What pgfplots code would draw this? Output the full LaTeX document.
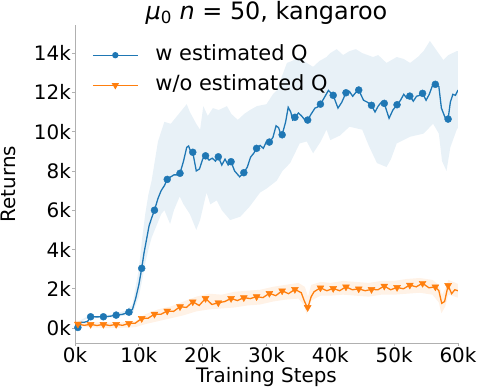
\documentclass[border=0pt]{standalone}
\usepackage{fontspec}
\setmainfont{DejaVu Sans}
\usepackage{pgfplots}
\pgfplotsset{compat=1.18}
\usepgfplotslibrary{fillbetween}
\definecolor{tabblue}{HTML}{1F77B4}
\definecolor{taborange}{HTML}{FF7F0E}
\definecolor{spine}{HTML}{B0B0B0}
\begin{document}
\begin{tikzpicture}
\begin{axis}[
  at={(0,0)}, anchor=south west,
  scale only axis, width=383bp, height=318bp,
  xmin=0, xmax=60, ymin=-0.76, ymax=15.43,
  axis x line=bottom, axis y line=left,
  axis line style={-, draw=spine, line width=0.8bp},
  xtick={0,10,20,30,40,50,60},
  xticklabels={0k,10k,20k,30k,40k,50k,60k},
  ytick={0,2,4,6,8,10,12,14},
  yticklabels={0k,2k,4k,6k,8k,10k,12k,14k},
  tick align=outside, major tick length=3bp,
  tick style={draw=spine, line width=0.8bp},
  ticklabel style={font=\fontsize{20}{24}\selectfont, inner sep=1bp},
  title={{\itshape μ}\textsubscript{0} {\itshape n} = 50, kangaroo},
  every axis title/.style={font=\fontsize{24}{28}\selectfont, at={(axis description cs:0.5,1)}, anchor=base, yshift=5bp},
  xlabel={Training Steps},
  every axis x label/.style={font=\fontsize{20}{24}\selectfont, at={(axis description cs:0.5,0)}, anchor=base, yshift=-39bp},
  ylabel={Returns},
  every axis y label/.style={font=\fontsize{20}{24}\selectfont, at={(axis description cs:0,0.5)}, rotate=90, anchor=center, yshift=67bp},
  legend style={draw=none, fill=none, at={(axis description cs:0,1)}, anchor=north west, xshift=14bp, yshift=-18bp,
    font=\fontsize{21}{25}\selectfont, row sep=10bp, column sep=17bp,
    nodes={inner sep=0pt, text height=15bp, text depth=5bp}},
  legend cell align=left,
  legend image code/.code={\draw[mark repeat=2,mark phase=2,#1] plot coordinates {(0bp,0bp) (22.5bp,0bp) (45bp,0bp)};},
]
% ---- blue band
\addplot[name path=bu, draw=none, forget plot] coordinates {
(0,0.25)(2,0.6)(4,0.62)(6,0.7)(8,0.9)(9,1.2)(10,3.0)(10.5,4.5)(11,5.8)(11.5,6.8)(12,7.5)(12.5,8.5)(13,9.5)(13.5,10.0)(14,10.5)(15,10.4)(16,10.8)(17,11.2)(17.5,11.4)(18,11.0)(19,10.4)(19.6,10.1)(20.1,11.3)(20.8,10.8)(21.6,11.2)(22.5,11.1)(23.8,11.3)(24.5,10.9)(25.5,10.6)(26.5,10.9)(27.4,11.1)(28.5,11.3)(30,11.4)(31,11.9)(31.6,12.1)(32.4,12.8)(33.2,13.5)(34,13.6)(35.2,13.8)(36.3,13.5)(37.3,13.3)(38.3,13.6)(39.4,13.8)(40,14.0)(41,14.2)(42,13.9)(43,14.1)(44,14.2)(45,14.0)(46.7,13.8)(47.5,13.9)(48.8,13.5)(50.4,13.8)(51.5,13.7)(52.5,13.5)(53.7,13.8)(54.6,14.1)(55.6,14.62)(56.5,14.2)(57.7,13.65)(58.5,13.9)(59.8,14.1)(60,14.1)};
\addplot[name path=bl, draw=none, forget plot] coordinates {
(0,0.15)(2,0.5)(4,0.52)(6,0.55)(8,0.65)(9,0.7)(10,1.6)(10.5,2.4)(11,3.3)(11.5,4.0)(12,4.6)(12.5,5.0)(13,5.4)(13.5,5.8)(14,6.0)(14.9,5.3)(15.5,6.0)(16.4,6.7)(17,6.3)(18,5.8)(19,5.0)(19.6,5.5)(20.6,6.9)(21.2,6.3)(22.2,6.5)(23,6.0)(24.3,5.5)(25.9,5.67)(27.4,6.2)(29,6.9)(30,7.1)(31.6,7.5)(32.5,8.0)(33.7,8.4)(35.2,9.4)(36.3,9.5)(37.3,8.9)(38.5,9.5)(39.4,10.1)(40,9.57)(41.5,9.8)(43,10.25)(45,10.1)(46,9.3)(47.3,8.4)(48.8,8.2)(49.5,8.6)(50.4,9.4)(52.5,9.74)(54.6,9.9)(56.1,10.4)(57,9.9)(57.5,8.5)(58.2,8.0)(58.8,9.2)(59.8,10.1)(60,10.2)};
\addplot[fill=tabblue, fill opacity=0.1, draw=none, forget plot] fill between[of=bu and bl];
% ---- orange band
\addplot[name path=ou, draw=none, forget plot] coordinates {
(0,0.4)(2,0.3)(5,0.28)(8,0.3)(9.5,0.35)(11,0.7)(13,0.95)(15,1.1)(17,1.35)(19,1.6)(21,1.75)(23,1.7)(25,1.85)(27,1.9)(29,1.95)(31,2.1)(33,2.2)(35,2.3)(36,2.1)(36.5,1.6)(37,2.2)(38.5,2.35)(40,2.3)(42,2.4)(44,2.35)(46,2.3)(48,2.4)(50,2.4)(52,2.5)(54,2.55)(56,2.45)(57,2.2)(57.5,1.7)(58,2.0)(58.5,2.45)(60,2.25)};
\addplot[name path=ol, draw=none, forget plot] coordinates {
(0,0.15)(2,0.05)(5,0.0)(8,0.02)(9.5,0.05)(11,0.2)(13,0.35)(15,0.5)(17,0.65)(19,0.85)(21,0.95)(23,1.0)(25,1.05)(27,1.15)(29,1.2)(31,1.35)(33,1.45)(35,1.5)(35.8,1.2)(36.3,0.7)(37,1.4)(38.5,1.65)(40,1.65)(42,1.7)(44,1.65)(46,1.6)(48,1.7)(50,1.7)(52,1.75)(54,1.8)(56,1.7)(57,1.3)(57.4,0.75)(58,1.1)(58.5,1.7)(60,1.55)};
\addplot[fill=taborange, fill opacity=0.1, draw=none, forget plot] fill between[of=ou and ol];
% ---- blue line
\addplot[tabblue, line width=1.3bp, forget plot] coordinates {
(0,0.2)(0.45,0.03)(1.0,0.3)(1.5,0.3)(2.0,0.35)(2.45,0.575)(3.45,0.57)(4.45,0.575)(5.45,0.6)(6.45,0.66)(7.45,0.7)(8.45,0.81)(9.0,0.95)(9.5,1.5)(10.0,2.2)(10.45,3.04)(10.8,3.8)(11.2,4.5)(11.6,5.2)(12.0,5.6)(12.45,6.0)(13.0,6.6)(13.5,7.0)(14.0,7.25)(14.45,7.57)(15.0,7.7)(15.5,7.8)(16.0,7.8)(16.45,7.88)(17.0,8.5)(17.5,9.2)(17.8,9.27)(18.1,9.0)(18.45,8.95)(19.0,8.0)(19.5,8.1)(20.0,8.6)(20.45,8.77)(21.0,8.55)(21.5,8.65)(22.0,8.5)(22.45,8.72)(23.0,8.3)(23.5,8.6)(24.0,8.3)(24.45,8.47)(25.0,8.0)(25.8,7.7)(26.45,7.91)(27.0,8.2)(27.5,8.7)(28.0,8.9)(28.45,9.15)(29.0,9.3)(29.5,9.15)(30.0,9.5)(30.45,9.47)(31.0,9.7)(31.5,10.3)(31.9,10.2)(32.2,9.9)(32.45,9.84)(33.0,10.5)(33.4,11.24)(33.8,11.0)(34.1,10.6)(34.45,10.73)(35.0,10.95)(35.5,10.8)(36.0,10.6)(36.45,10.59)(37.0,10.9)(37.6,11.2)(38.0,11.25)(38.45,11.4)(39.0,11.7)(39.7,12.1)(40.45,11.85)(41.2,11.2)(41.8,11.5)(42.45,11.98)(43.0,12.05)(43.5,11.8)(44.0,12.0)(44.45,12.12)(45.2,11.6)(45.8,11.5)(46.45,11.34)(47.0,11.0)(47.5,11.3)(48.0,11.5)(48.45,11.44)(49.2,10.68)(49.8,11.1)(50.45,11.37)(51.0,11.6)(51.5,11.9)(52.0,11.7)(52.45,11.81)(53.0,11.55)(53.5,11.8)(54.0,11.85)(54.45,11.95)(55.0,11.6)(55.5,11.9)(56.0,12.35)(56.45,12.41)(57.0,12.3)(57.4,11.2)(58.0,10.7)(58.45,10.64)(58.8,11.5)(59.2,11.9)(59.6,11.85)(60.0,12.12)};
\addplot[only marks, mark=*, mark size=3.5bp, tabblue, forget plot] coordinates {
(0.45,0.03)(2.45,0.575)(4.45,0.575)(6.45,0.66)(8.45,0.81)(10.45,3.04)(12.45,6.0)(14.45,7.57)(16.45,7.88)(18.45,8.95)(20.45,8.77)(22.45,8.72)(24.45,8.47)(26.45,7.91)(28.45,9.15)(30.45,9.47)(32.45,9.84)(34.45,10.73)(36.45,10.59)(38.45,11.4)(40.45,11.85)(42.45,11.98)(44.45,12.12)(46.45,11.34)(48.45,11.44)(50.45,11.37)(52.45,11.81)(54.45,11.95)(56.45,12.41)(58.45,10.64)};
% ---- orange line
\addplot[taborange, line width=1.3bp, forget plot] coordinates {
(0,0.3)(0.45,0.2)(1.45,0.14)(2.45,0.19)(3.45,0.13)(4.45,0.19)(5.45,0.13)(6.45,0.19)(7.45,0.14)(8.45,0.24)(9.45,0.25)(10.45,0.49)(11.45,0.5)(12.45,0.71)(13.45,0.7)(14.45,0.87)(15.45,0.85)(16.45,1.09)(17.45,1.05)(18.45,1.34)(19.45,1.15)(20.45,1.51)(21.45,1.2)(22.45,1.29)(23.45,1.35)(24.45,1.51)(25.45,1.4)(26.45,1.55)(27.45,1.5)(28.45,1.6)(29.45,1.55)(30.45,1.77)(31.45,1.65)(32.45,1.9)(33.45,1.75)(34.45,1.97)(35.45,1.8)(35.9,1.4)(36.45,1.0)(37.0,1.6)(37.45,1.85)(38.45,2.05)(39.45,1.9)(40.45,2.02)(41.45,1.9)(42.45,2.1)(43.45,1.95)(44.45,2.0)(45.45,1.9)(46.45,1.97)(47.45,1.95)(48.45,2.14)(49.45,1.95)(50.45,2.07)(51.45,2.0)(52.45,2.19)(53.45,2.1)(54.45,2.28)(55.45,2.05)(56.45,2.1)(57.0,1.9)(57.45,1.26)(57.9,1.35)(58.45,2.17)(59.0,1.75)(59.5,1.95)(60,1.9)};
\addplot[only marks, mark=triangle*, mark options={rotate=180}, mark size=4bp, taborange, forget plot] coordinates {
(0.45,0.2)(2.45,0.19)(4.45,0.19)(6.45,0.19)(8.45,0.24)(10.45,0.49)(12.45,0.71)(14.45,0.87)(16.45,1.09)(18.45,1.34)(20.45,1.51)(22.45,1.29)(24.45,1.51)(26.45,1.55)(28.45,1.6)(30.45,1.77)(32.45,1.9)(34.45,1.97)(36.45,1.05)(38.45,2.05)(40.45,2.02)(42.45,2.1)(44.45,2.0)(46.45,1.97)(48.45,2.14)(50.45,2.07)(52.45,2.19)(54.45,2.28)(56.45,2.1)(58.45,2.17)};
% ---- legend
\addlegendimage{tabblue, line width=1.3bp, mark=*, mark size=2.5bp}
\addlegendentry{w estimated Q}
\addlegendimage{taborange, line width=1.3bp, mark=triangle*, mark size=3bp, mark options={rotate=180}}
\addlegendentry{w/o estimated Q}
\end{axis}
\pgfresetboundingbox
\path[use as bounding box] (-75bp,-44bp) rectangle (403bp,343bp);
\end{tikzpicture}
\end{document}
